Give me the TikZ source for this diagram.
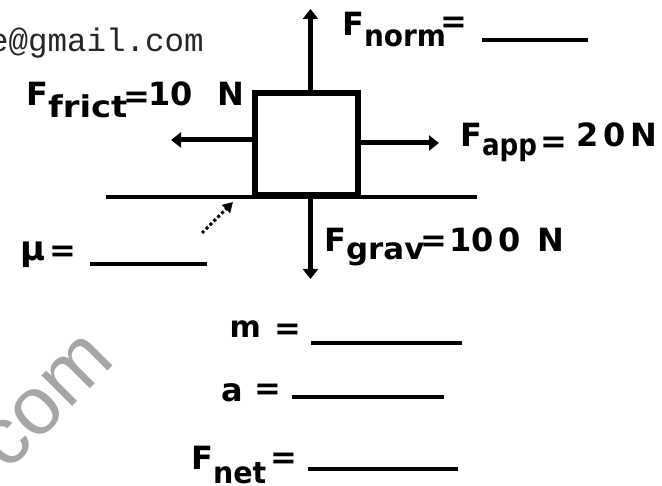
\documentclass[tikz,border=0pt]{standalone}
\usepackage{fontspec}
\usepackage{graphicx}
\usetikzlibrary{arrows.meta}
\newfontfamily\lblfont{DejaVu Sans}
\newfontfamily\monofnt{Liberation Mono}
\newfontfamily\wmfnt{Liberation Sans}
\definecolor{wmgray}{HTML}{A6A6A6}
\newcommand{\lsub}[3]{\raisebox{-#1pt}{\fontsize{30}{32}\selectfont\scalebox{#2}[1]{#3}}}
\tikzset{
  lbl/.style={inner sep=0pt, anchor=base west, font=\lblfont\bfseries\fontsize{32}{34}\selectfont},
  blank/.style={line width=3.5pt},
  force/.style={line width=5pt, -{Triangle[width=15pt,length=10pt]}},
  hint/.style={line width=3pt, dash pattern=on 3pt off 2.5pt, -{Triangle[width=11pt,length=10pt]}},
  block/.style={draw, line width=6pt, minimum width=103pt, minimum height=102pt, inner sep=0pt},
}
\begin{document}
\begin{tikzpicture}[x=1pt, y=-1pt]
\fill[white] (0,0) rectangle (662,486);
\useasboundingbox (0,0) rectangle (662,486);

% watermarks
\node[inner sep=0pt, anchor=base west, font=\monofnt\fontsize{32.5}{34}\selectfont, text=black!85] (mail) at (-11,52) {e@gmail.com};
\node[inner sep=0pt, rotate=45, font=\wmfnt\fontsize{82}{84}\selectfont, text=wmgray] (wm) at (47,402) {com};

% ground
\coordinate (gL) at (106,197);
\coordinate (gR) at (477,197);
\draw[line width=3.5pt] (gL) -- (gR);

% block
\node[block] (box) at (306.5,144) {};

% forces
\coordinate (upEnd) at (310.5,9);
\coordinate (downEnd) at (310.5,279);
\coordinate (leftEnd) at (171,140);
\coordinate (rightEnd) at (439,143);
\draw[force] (box.north -| upEnd) -- (upEnd);
\draw[force] (box.south -| downEnd) -- (downEnd);
\draw[force] (box.west |- leftEnd) -- (leftEnd);
\draw[force] (box.east |- rightEnd) -- (rightEnd);

% mu pointer
\coordinate (muA) at (202,233);
\coordinate (muB) at (233,202);
\draw[hint] (muA) -- (muB);

% F_norm
\node[lbl] (Fnorm) at (342,36) {F\lsub{11}{0.93}{norm}};
\node[lbl] (FnormEq) at (440,33) {=};
\coordinate (normA) at (482,40); \coordinate (normB) at (588,40);
\draw[blank] (normA) -- (normB);

% F_frict
\node[lbl] (Ffrict) at (26,106) {F\lsub{12}{1.13}{frict}};
\node[lbl] (FfrictEq) at (123,108) {=};
\node[lbl] (FfrictVal) at (148,106) {10\hspace{25pt}N};

% F_app
\node[lbl] (Fapp) at (460,147) {F\lsub{9}{0.87}{app}};
\node[lbl] (FappEq) at (540,153) {=};
\node[lbl] (FappVal) at (576,147) {2\hspace{4.7pt}0\hspace{4.7pt}N};

% F_grav
\node[lbl] (Fgrav) at (324,252) {F\lsub{8}{1.03}{grav}};
\node[lbl] (FgravEq) at (420,252) {=};
\node[lbl] (FgravVal) at (449,252) {10\hspace{4.7pt}0\hspace{16.7pt}N};

% mu
\node[lbl, font=\lblfont\bfseries\fontsize{34}{36}\selectfont] (mu) at (20,261) {μ};
\node[lbl] (muEq) at (49,262) {=};
\coordinate (muL) at (90,264); \coordinate (muR) at (207,264);
\draw[blank] (muL) -- (muR);

% m
\node[lbl, font=\lblfont\bfseries\fontsize{30}{32}\selectfont] (mass) at (229.5,338) {m};
\node[lbl] (massEq) at (274,339.5) {=};
\coordinate (mL) at (311,343); \coordinate (mR) at (462,343);
\draw[blank] (mL) -- (mR);

% a
\node[lbl] (acc) at (221,402) {a};
\node[lbl] (accEq) at (254,399.5) {=};
\coordinate (aL) at (292,397); \coordinate (aR) at (444,397);
\draw[blank] (aL) -- (aR);

% F_net
\node[lbl] (Fnet) at (191,470) {F\lsub{14}{0.95}{net}};
\node[lbl] (FnetEq) at (270,469) {=};
\coordinate (nL) at (308,469); \coordinate (nR) at (458,469);
\draw[blank] (nL) -- (nR);
\end{tikzpicture}
\end{document}
